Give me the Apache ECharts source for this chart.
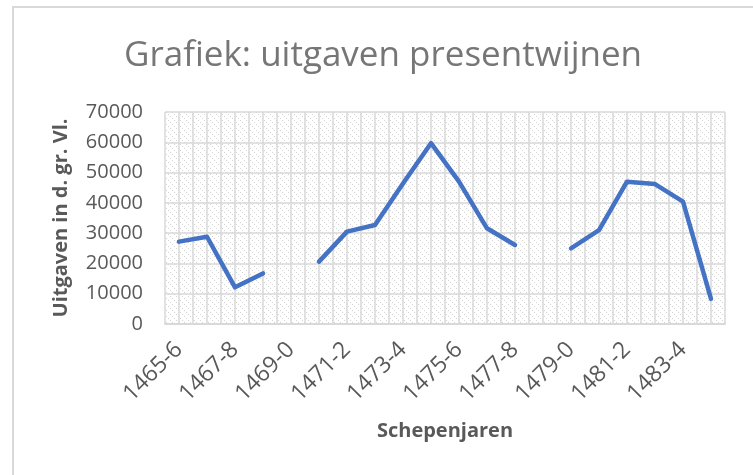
<!DOCTYPE html>
<html>
<head>
<meta charset="utf-8">
<script src="https://cdn.jsdelivr.net/npm/echarts@6/dist/echarts.min.js"></script>
<style>
  html, body { margin: 0; padding: 0; background: #fff; }
  #frame { position: absolute; left: 12px; top: 6px; width: 800px; height: 500px;
           border-left: 2px solid #d9d9d9; border-top: 2px solid #d9d9d9; }
  #chart { position: absolute; left: 0; top: 0; width: 753px; height: 475px; }
</style>
</head>
<body>
<div id="frame"></div>
<div id="chart"></div>
<script>
var years = ['1465-6', '1466-7', '1467-8', '1468-9', '1469-0', '1470-1', '1471-2', '1472-3', '1473-4', '1474-5',
             '1475-6', '1476-7', '1477-8', '1478-9', '1479-0', '1480-1', '1481-2', '1482-3', '1483-4', '1484-5'];
var uitgaven = [27200, 28800, 12100, 16700, null, 20600, 30500, 32700, 46400, 59700,
                47000, 31600, 26100, null, 25000, 31000, 47000, 46200, 40400, 8300];
var yTicks = [0, 10000, 20000, 30000, 40000, 50000, 60000, 70000];

function makeHatch() {
    var c = document.createElement('canvas');
    c.width = 6; c.height = 6;
    var ctx = c.getContext('2d');
    ctx.fillStyle = '#ffffff';
    ctx.fillRect(0, 0, 6, 6);
    ctx.fillStyle = '#d4d4d4';
    for (var i = 0; i < 6; i += 2) {
        ctx.fillRect(i, i, 1, 1);
    }
    return c;
}

function loadChartView(id, option) {
    var myChart = echarts.init(document.getElementById(id), null, { renderer: 'canvas' });
    myChart.setOption(option);
    return myChart;
}

function getChart() {
    var option = {
        animation: false,
        textStyle: { fontFamily: 'Open Sans' },
        title: {
            text: 'Grafiek: uitgaven presentwijnen',
            left: 119,
            top: 34,
            textStyle: { fontFamily: 'Open Sans', fontSize: 35, fontWeight: 'normal', color: '#767676' }
        },
        grid: {
            left: 165, top: 112, right: 28, bottom: 151,
            show: true,
            borderWidth: 0,
            backgroundColor: { image: makeHatch(), repeat: 'repeat' }
        },
        xAxis: [{
            type: 'category',
            data: years,
            boundaryGap: true,
            axisLine: { show: true, lineStyle: { color: '#d9d9d9', width: 2 } },
            axisTick: { show: false },
            axisLabel: {
                interval: 1,
                rotate: 45,
                margin: 22,
                fontSize: 23,
                color: '#595959',
                fontFamily: 'Open Sans'
            },
            splitLine: { show: false },
            name: 'Schepenjaren',
            nameLocation: 'middle',
            nameGap: 97,
            nameTextStyle: { fontSize: 20, fontWeight: 'bold', color: '#595959' }
        }, {
            type: 'value',
            min: 0,
            max: years.length * 2,
            interval: 1,
            position: 'bottom',
            axisLine: { show: false },
            axisTick: { show: false },
            axisLabel: { show: false },
            splitLine: { show: true, lineStyle: { color: '#d9d9d9', width: 1.5 } }
        }],
        yAxis: {
            type: 'value',
            min: yTicks[0],
            max: yTicks[yTicks.length - 1],
            interval: yTicks[1] - yTicks[0],
            axisLine: { show: false },
            axisTick: { show: false },
            axisLabel: {
                margin: 22, fontSize: 20, color: '#595959', fontFamily: 'Open Sans',
                formatter: function (v) { return String(v); }
            },
            splitLine: { show: true, lineStyle: { color: '#d9d9d9', width: 1.5 } },
            name: 'Uitgaven in d. gr. Vl.',
            nameLocation: 'middle',
            nameGap: 94,
            nameTextStyle: { fontSize: 20, fontWeight: 'bold', color: '#595959' }
        },
        series: [{
            type: 'line',
            xAxisIndex: 0,
            data: uitgaven,
            connectNulls: false,
            showSymbol: false,
            symbol: 'none',
            lineStyle: { color: '#4472c4', width: 4.5, cap: 'round', join: 'round' }
        }]
    };
    return option;
}

loadChartView('chart', getChart());
</script>
</body>
</html>
